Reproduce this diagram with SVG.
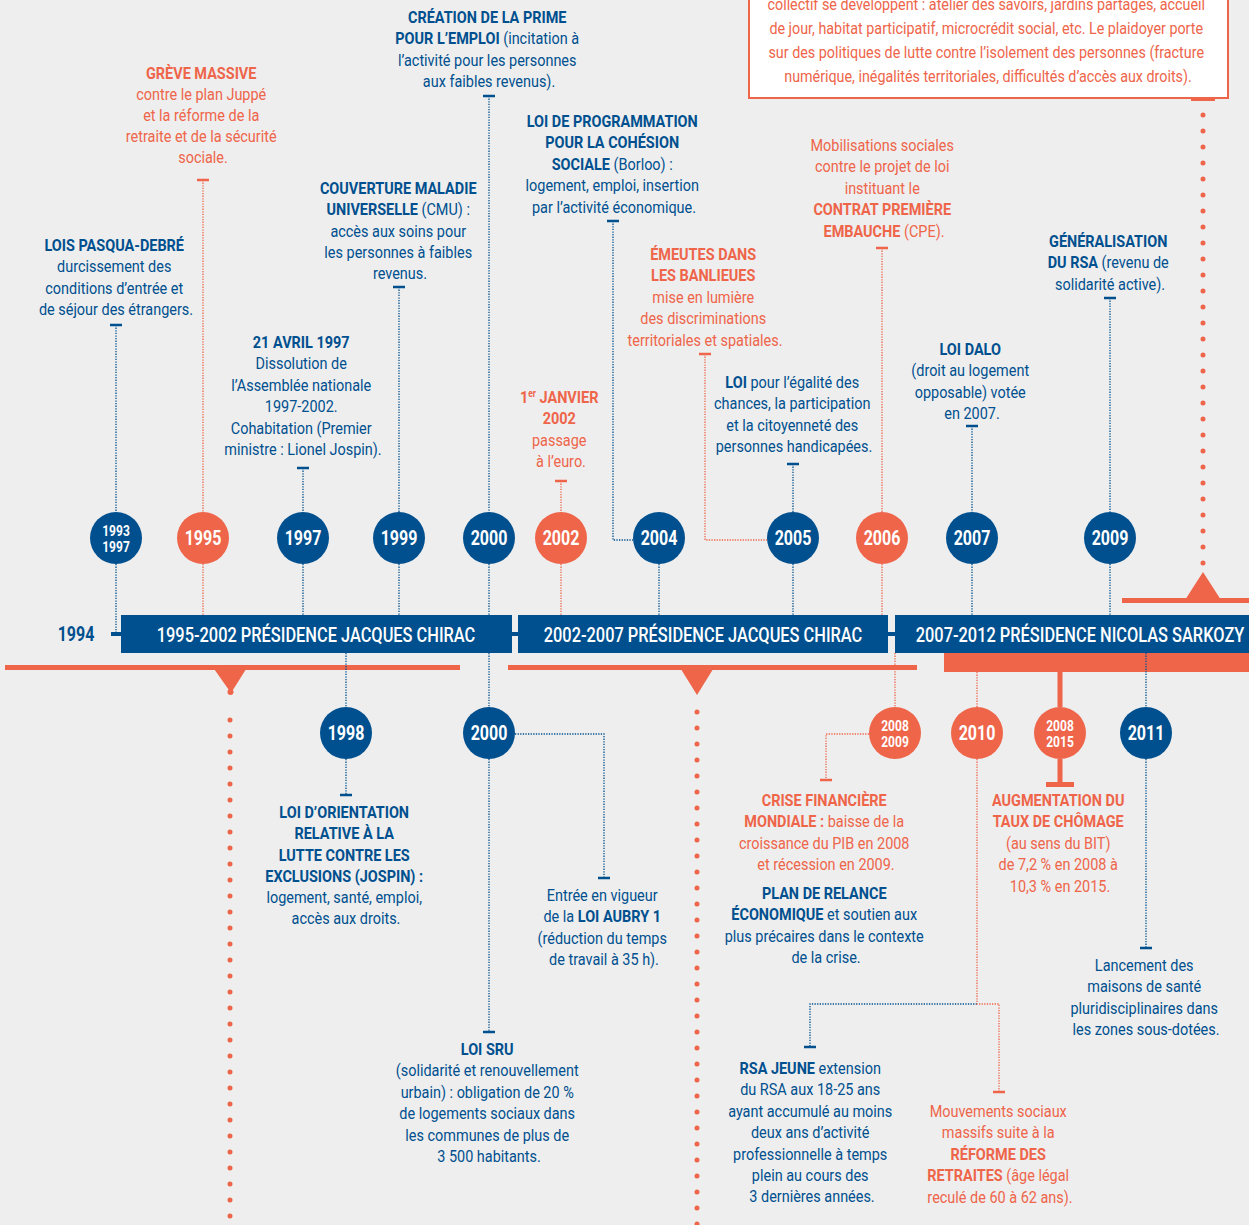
<svg xmlns="http://www.w3.org/2000/svg" width="1249" height="1225" viewBox="0 0 1249 1225">
<defs>
<style>
.t{font-family:Roboto,"Liberation Sans",Arial,sans-serif;font-size:17px;text-anchor:middle}
.bx{font-size:16px}
.b{font-weight:700}
.blue{fill:#00508f}
.or{fill:#ee654a}
.db{fill:none;stroke:#00508f;stroke-width:1.3;stroke-dasharray:1.3 1.3}
.do{fill:none;stroke:#ee654a;stroke-width:1.3;stroke-dasharray:1.3 1.3}
.tb{stroke:#00508f;stroke-width:2.6}
.to{stroke:#ee654a;stroke-width:2.6}
.big{fill:none;stroke:#ee654a;stroke-width:5;stroke-linecap:round;stroke-dasharray:0 16}
.cb{fill:#00508f}
.co{fill:#ee654a}
.ct{font-family:Roboto,"Liberation Sans",Arial,sans-serif;font-weight:700;fill:#fff;text-anchor:middle;font-size:20px}
.cs{font-size:15px}
.bt{font-family:Roboto,"Liberation Sans",Arial,sans-serif;font-weight:500;fill:#fff;text-anchor:middle;font-size:20px}
</style>
</defs>
<rect width="1249" height="1225" fill="#eeeeee"/>

<g id="timeline">
<rect x="121" y="615" width="391" height="38" class="cb"/>
<rect x="518" y="615" width="370" height="38" class="cb"/>
<rect x="895" y="615" width="354" height="38" class="cb"/>
<rect x="512" y="632" width="6" height="4" class="cb"/>
<rect x="888" y="632" width="7" height="4" class="cb"/>
<rect x="111" y="632" width="10" height="4" class="cb"/>
<text class="ct" style="fill:#00508f" transform="translate(76 641) scale(0.8 1)">1994</text>
<text class="bt" transform="translate(316 642) scale(0.82 1)">1995-2002 PRÉSIDENCE JACQUES CHIRAC</text>
<text class="bt" transform="translate(703 642) scale(0.82 1)">2002-2007 PRÉSIDENCE JACQUES CHIRAC</text>
<text class="bt" transform="translate(1080 642) scale(0.82 1)">2007-2012 PRÉSIDENCE NICOLAS SARKOZY</text>
<rect x="5" y="665" width="455" height="5" class="co"/>
<rect x="508" y="665" width="409" height="5" class="co"/>
<rect x="944" y="653" width="305" height="19" class="co"/>
<rect x="1122" y="598" width="127" height="5" class="co"/>
<polygon points="212,666 248,666 231,693" class="co"/>
<circle cx="230.5" cy="692" r="3" class="co"/>
<polygon points="679,666 715,666 697,695" class="co"/>
<polygon points="1185,600 1221,600 1203,572" class="co"/>
<path class="big" d="M230 720 V1225"/>
<path class="big" d="M697 712 V1225"/>
<path class="big" d="M1203 115 V567"/>
<rect x="1191" y="96" width="24" height="5" class="co"/>
</g>

<g id="box">
<rect x="749" y="-5" width="479" height="103" fill="#ffffff" stroke="#ee654a" stroke-width="2"/>
<g transform="translate(988 0) scale(0.895 1)">
<text class="t bx or">
<tspan x="0" y="10">collectif se développent : atelier des savoirs, jardins partagés, accueil</tspan>
<tspan x="0" y="34">de jour, habitat participatif, microcrédit social, etc. Le plaidoyer porte</tspan>
<tspan x="0" y="58">sur des politiques de lutte contre l’isolement des personnes (fracture</tspan>
<tspan x="0" y="82">numérique, inégalités territoriales, difficultés d’accès aux droits).</tspan>
</text>
</g>
</g>

<g id="connectors">
<path class="db" d="M116 325 V512 M116 564 V635"/>
<path class="db" d="M303 468 V512 M303 564 V615"/>
<path class="db" d="M399 287 V512 M399 564 V615"/>
<path class="db" d="M489 96 V512 M489 564 V615 M489 653 V707 M489 759 V1032"/>
<path class="db" d="M613 221 V540 H633 M659 564 V615"/>
<path class="db" d="M793 464 V512 M793 564 V615"/>
<path class="db" d="M972 426 V512 M972 564 V615"/>
<path class="db" d="M1110 298 V512 M1110 564 V615"/>
<path class="db" d="M346 653 V707 M346 759 V795"/>
<path class="db" d="M515 734 H604 V878"/>
<path class="db" d="M1146 653 V707 M1146 759 V948"/>
<path class="db" d="M977 1004 H810 V1047"/>
<path class="do" d="M203 180 V512 M203 564 V615"/>
<path class="do" d="M561 481 V512 M561 564 V615"/>
<path class="do" d="M705 354 V540 H767"/>
<path class="do" d="M882 248 V512 M882 564 V615"/>
<path class="do" d="M895 653 V707"/>
<path class="do" d="M869 734 H826 V780"/>
<path class="do" d="M977 672 V707 M977 759 V1004 H999 V1092"/>
<rect x="1057.5" y="672" width="5" height="35" class="co"/>
<rect x="1057.5" y="759" width="5" height="25" class="co"/>
<rect x="1046" y="782" width="28" height="5" class="co"/>
<g class="tb">
<path d="M110 325 H122 M297 468 H309 M393 287 H405 M483 96 H495 M607 221 H619 M787 464 H799 M966 426 H978 M1104 298 H1116 M340 795 H352 M598 878 H610 M483 1032 H495 M1140 948 H1152 M804 1047 H816"/>
</g>
<g class="to">
<path d="M197 180 H209 M555 481 H567 M699 354 H711 M876 248 H888 M820 780 H832 M993 1092 H1005"/>
</g>
</g>

<g id="circles">
<g id="c1993"><circle cx="116" cy="538" r="26" class="cb"/><text class="ct cs" transform="translate(116 0) scale(0.8 1)"><tspan x="0" y="536">1993</tspan><tspan x="0" y="552">1997</tspan></text></g>
<g id="c1995"><circle cx="203" cy="538" r="26" class="co"/><text class="ct" transform="translate(203 545) scale(0.8 1)">1995</text></g>
<g id="c1997"><circle cx="303" cy="538" r="26" class="cb"/><text class="ct" transform="translate(303 545) scale(0.8 1)">1997</text></g>
<g id="c1999"><circle cx="399" cy="538" r="26" class="cb"/><text class="ct" transform="translate(399 545) scale(0.8 1)">1999</text></g>
<g id="c2000a"><circle cx="489" cy="538" r="26" class="cb"/><text class="ct" transform="translate(489 545) scale(0.8 1)">2000</text></g>
<g id="c2002"><circle cx="561" cy="538" r="26" class="co"/><text class="ct" transform="translate(561 545) scale(0.8 1)">2002</text></g>
<g id="c2004"><circle cx="659" cy="538" r="26" class="cb"/><text class="ct" transform="translate(659 545) scale(0.8 1)">2004</text></g>
<g id="c2005"><circle cx="793" cy="538" r="26" class="cb"/><text class="ct" transform="translate(793 545) scale(0.8 1)">2005</text></g>
<g id="c2006"><circle cx="882" cy="538" r="26" class="co"/><text class="ct" transform="translate(882 545) scale(0.8 1)">2006</text></g>
<g id="c2007"><circle cx="972" cy="538" r="26" class="cb"/><text class="ct" transform="translate(972 545) scale(0.8 1)">2007</text></g>
<g id="c2009"><circle cx="1110" cy="538" r="26" class="cb"/><text class="ct" transform="translate(1110 545) scale(0.8 1)">2009</text></g>
<g id="c1998"><circle cx="346" cy="733" r="26" class="cb"/><text class="ct" transform="translate(346 740) scale(0.8 1)">1998</text></g>
<g id="c2000b"><circle cx="489" cy="733" r="26" class="cb"/><text class="ct" transform="translate(489 740) scale(0.8 1)">2000</text></g>
<g id="c2008a"><circle cx="895" cy="733" r="26" class="co"/><text class="ct cs" transform="translate(895 0) scale(0.8 1)"><tspan x="0" y="731">2008</tspan><tspan x="0" y="747">2009</tspan></text></g>
<g id="c2010"><circle cx="977" cy="733" r="26" class="co"/><text class="ct" transform="translate(977 740) scale(0.8 1)">2010</text></g>
<g id="c2008b"><circle cx="1060" cy="733" r="26" class="co"/><text class="ct cs" transform="translate(1060 0) scale(0.8 1)"><tspan x="0" y="731">2008</tspan><tspan x="0" y="747">2015</tspan></text></g>
<g id="c2011"><circle cx="1146" cy="733" r="26" class="cb"/><text class="ct" transform="translate(1146 740) scale(0.8 1)">2011</text></g>
</g>

<g id="labels">
<g id="n-pasqua" transform="translate(116 0) scale(0.85 1)"><text class="t blue">
<tspan x="0" y="251" class="b">LOIS PASQUA-DEBRÉ</tspan>
<tspan x="0" y="272.4">durcissement des</tspan>
<tspan x="0" y="293.8">conditions d’entrée et</tspan>
<tspan x="0" y="315.2">de séjour des étrangers.</tspan>
</text></g>
<g id="n-greve" transform="translate(203 0) scale(0.85 1)"><text class="t or">
<tspan x="0" y="79" class="b">GRÈVE MASSIVE</tspan>
<tspan x="0" y="100">contre le plan Juppé</tspan>
<tspan x="0" y="121">et la réforme de la</tspan>
<tspan x="0" y="142">retraite et de la sécurité</tspan>
<tspan x="0" y="163">sociale.</tspan>
</text></g>
<g id="n-avril" transform="translate(303 0) scale(0.85 1)"><text class="t blue">
<tspan x="0" y="348" class="b">21 AVRIL 1997</tspan>
<tspan x="0" y="369.5">Dissolution de</tspan>
<tspan x="0" y="391">l’Assemblée nationale</tspan>
<tspan x="0" y="412.5">1997-2002.</tspan>
<tspan x="0" y="434">Cohabitation (Premier</tspan>
<tspan x="0" y="455.5">ministre : Lionel Jospin).</tspan>
</text></g>
<g id="n-cmu" transform="translate(400 0) scale(0.85 1)"><text class="t blue">
<tspan x="0" y="194" class="b">COUVERTURE MALADIE</tspan>
<tspan x="0" y="215.3"><tspan class="b">UNIVERSELLE</tspan> (CMU) :</tspan>
<tspan x="0" y="236.6">accès aux soins pour</tspan>
<tspan x="0" y="257.9">les personnes à faibles</tspan>
<tspan x="0" y="279.2">revenus.</tspan>
</text></g>
<g id="n-prime" transform="translate(489 0) scale(0.85 1)"><text class="t blue">
<tspan x="0" y="23" class="b">CRÉATION DE LA PRIME</tspan>
<tspan x="0" y="44.3"><tspan class="b">POUR L’EMPLOI</tspan> (incitation à</tspan>
<tspan x="0" y="65.6">l’activité pour les personnes</tspan>
<tspan x="0" y="86.9">aux faibles revenus).</tspan>
</text></g>
<g id="n-cohesion" transform="translate(614 0) scale(0.85 1)"><text class="t blue">
<tspan x="0" y="127" class="b">LOI DE PROGRAMMATION</tspan>
<tspan x="0" y="148.5" class="b">POUR LA COHÉSION</tspan>
<tspan x="0" y="170"><tspan class="b">SOCIALE</tspan> (Borloo) :</tspan>
<tspan x="0" y="191.5">logement, emploi, insertion</tspan>
<tspan x="0" y="213">par l’activité économique.</tspan>
</text></g>
<g id="n-euro" transform="translate(561 0) scale(0.85 1)"><text class="t or">
<tspan x="0" y="403" class="b">1<tspan font-size="10" dy="-6">er</tspan><tspan dy="6"> JANVIER</tspan></tspan>
<tspan x="0" y="424.5" class="b">2002</tspan>
<tspan x="0" y="446">passage</tspan>
<tspan x="0" y="467.5">à l’euro.</tspan>
</text></g>
<g id="n-emeutes" transform="translate(705 0) scale(0.85 1)"><text class="t or">
<tspan x="0" y="260" class="b">ÉMEUTES DANS</tspan>
<tspan x="0" y="281.4" class="b">LES BANLIEUES</tspan>
<tspan x="0" y="302.8">mise en lumière</tspan>
<tspan x="0" y="324.2">des discriminations</tspan>
<tspan x="0" y="345.6">territoriales et spatiales.</tspan>
</text></g>
<g id="n-handicap" transform="translate(794 0) scale(0.85 1)"><text class="t blue">
<tspan x="0" y="388"><tspan class="b">LOI</tspan> pour l’égalité des</tspan>
<tspan x="0" y="409.4">chances, la participation</tspan>
<tspan x="0" y="430.8">et la citoyenneté des</tspan>
<tspan x="0" y="452.2">personnes handicapées.</tspan>
</text></g>
<g id="n-cpe" transform="translate(884 0) scale(0.85 1)"><text class="t or">
<tspan x="0" y="151">Mobilisations sociales</tspan>
<tspan x="0" y="172.4">contre le projet de loi</tspan>
<tspan x="0" y="193.8">instituant le</tspan>
<tspan x="0" y="215.2" class="b">CONTRAT PREMIÈRE</tspan>
<tspan x="0" y="236.6"><tspan class="b">EMBAUCHE</tspan> (CPE).</tspan>
</text></g>
<g id="n-dalo" transform="translate(972 0) scale(0.85 1)"><text class="t blue">
<tspan x="0" y="355" class="b">LOI DALO</tspan>
<tspan x="0" y="376.4">(droit au logement</tspan>
<tspan x="0" y="397.8">opposable) votée</tspan>
<tspan x="0" y="419.2">en 2007.</tspan>
</text></g>
<g id="n-rsa" transform="translate(1110 0) scale(0.85 1)"><text class="t blue">
<tspan x="0" y="247" class="b">GÉNÉRALISATION</tspan>
<tspan x="0" y="268.4"><tspan class="b">DU RSA</tspan> (revenu de</tspan>
<tspan x="0" y="289.8">solidarité active).</tspan>
</text></g>
<g id="n-exclusions" transform="translate(346 0) scale(0.85 1)"><text class="t blue">
<tspan x="0" y="818" class="b">LOI D’ORIENTATION</tspan>
<tspan x="0" y="839.3" class="b">RELATIVE À LA</tspan>
<tspan x="0" y="860.6" class="b">LUTTE CONTRE LES</tspan>
<tspan x="0" y="881.9" class="b">EXCLUSIONS (JOSPIN) :</tspan>
<tspan x="0" y="903.2">logement, santé, emploi,</tspan>
<tspan x="0" y="924.5">accès aux droits.</tspan>
</text></g>
<g id="n-aubry" transform="translate(604 0) scale(0.85 1)"><text class="t blue">
<tspan x="0" y="901">Entrée en vigueur</tspan>
<tspan x="0" y="922.4">de la <tspan class="b">LOI AUBRY 1</tspan></tspan>
<tspan x="0" y="943.8">(réduction du temps</tspan>
<tspan x="0" y="965.2">de travail à 35 h).</tspan>
</text></g>
<g id="n-sru" transform="translate(489 0) scale(0.85 1)"><text class="t blue">
<tspan x="0" y="1055" class="b">LOI SRU</tspan>
<tspan x="0" y="1076.4">(solidarité et renouvellement</tspan>
<tspan x="0" y="1097.8">urbain) : obligation de 20 %</tspan>
<tspan x="0" y="1119.2">de logements sociaux dans</tspan>
<tspan x="0" y="1140.6">les communes de plus de</tspan>
<tspan x="0" y="1162">3 500 habitants.</tspan>
</text></g>
<g id="n-crise" transform="translate(826 0) scale(0.85 1)"><text class="t or">
<tspan x="0" y="806" class="b">CRISE FINANCIÈRE</tspan>
<tspan x="0" y="827.4"><tspan class="b">MONDIALE :</tspan> baisse de la</tspan>
<tspan x="0" y="848.8">croissance du PIB en 2008</tspan>
<tspan x="0" y="870.2">et récession en 2009.</tspan>
</text><text class="t blue">
<tspan x="0" y="899" class="b">PLAN DE RELANCE</tspan>
<tspan x="0" y="920.4"><tspan class="b">ÉCONOMIQUE</tspan> et soutien aux</tspan>
<tspan x="0" y="941.8">plus précaires dans le contexte</tspan>
<tspan x="0" y="963.2">de la crise.</tspan>
</text></g>
<g id="n-chomage" transform="translate(1060 0) scale(0.85 1)"><text class="t or">
<tspan x="0" y="806" class="b">AUGMENTATION DU</tspan>
<tspan x="0" y="827.4" class="b">TAUX DE CHÔMAGE</tspan>
<tspan x="0" y="848.8">(au sens du BIT)</tspan>
<tspan x="0" y="870.2">de 7,2 % en 2008 à</tspan>
<tspan x="0" y="891.6">10,3 % en 2015.</tspan>
</text></g>
<g id="n-sante" transform="translate(1146 0) scale(0.85 1)"><text class="t blue">
<tspan x="0" y="971">Lancement des</tspan>
<tspan x="0" y="992.4">maisons de santé</tspan>
<tspan x="0" y="1013.8">pluridisciplinaires dans</tspan>
<tspan x="0" y="1035.2">les zones sous-dotées.</tspan>
</text></g>
<g id="n-rsajeune" transform="translate(812 0) scale(0.85 1)"><text class="t blue">
<tspan x="0" y="1074"><tspan class="b">RSA JEUNE</tspan> extension</tspan>
<tspan x="0" y="1095.4">du RSA aux 18-25 ans</tspan>
<tspan x="0" y="1116.8">ayant accumulé au moins</tspan>
<tspan x="0" y="1138.2">deux ans d’activité</tspan>
<tspan x="0" y="1159.6">professionnelle à temps</tspan>
<tspan x="0" y="1181">plein au cours des</tspan>
<tspan x="0" y="1202.4">3 dernières années.</tspan>
</text></g>
<g id="n-retraites" transform="translate(1000 0) scale(0.85 1)"><text class="t or">
<tspan x="0" y="1117">Mouvements sociaux</tspan>
<tspan x="0" y="1138.4">massifs suite à la</tspan>
<tspan x="0" y="1159.8" class="b">RÉFORME DES</tspan>
<tspan x="0" y="1181.2"><tspan class="b">RETRAITES</tspan> (âge légal</tspan>
<tspan x="0" y="1202.6">reculé de 60 à 62 ans).</tspan>
</text></g>
</g>
</svg>
